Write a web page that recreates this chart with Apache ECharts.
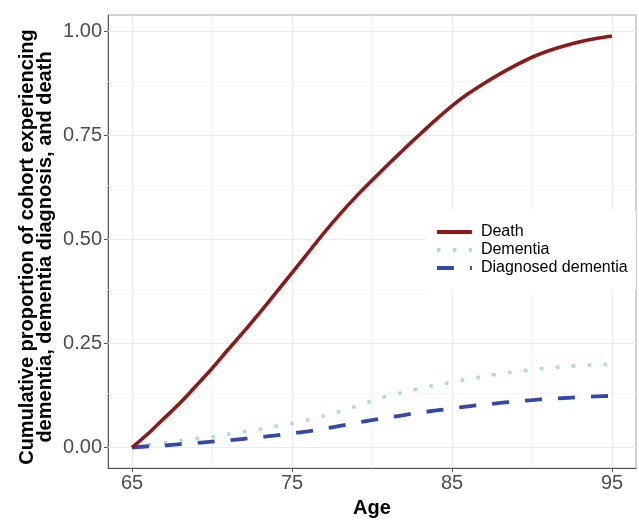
<!DOCTYPE html>
<html>
<head>
<meta charset="utf-8">
<script src="https://cdn.jsdelivr.net/npm/echarts@6/dist/echarts.min.js"></script>
<style>
  html, body { margin: 0; padding: 0; background: #fff; }
  #chart { width: 639px; height: 523px; }
</style>
</head>
<body>
<div id="chart"></div>
<script>
    // values
    const ages = [65, 66, 67, 68, 69, 70, 71, 72, 73, 74, 75, 76, 77, 78, 79, 80,
                  81, 82, 83, 84, 85, 86, 87, 88, 89, 90, 91, 92, 93, 94, 95];
    const death = [0.000, 0.033, 0.070, 0.107, 0.148, 0.190, 0.235, 0.279, 0.325, 0.372, 0.420,
                   0.468, 0.516, 0.561, 0.603, 0.642, 0.680, 0.717, 0.753, 0.788, 0.821,
                   0.850, 0.875, 0.898, 0.919, 0.938, 0.953, 0.965, 0.975, 0.983, 0.989];
    const dementia = [0.000, 0.006, 0.011, 0.016, 0.021, 0.026, 0.032, 0.038, 0.044, 0.051, 0.058,
                      0.066, 0.076, 0.087, 0.099, 0.112, 0.124, 0.133, 0.142, 0.150, 0.157,
                      0.164, 0.171, 0.177, 0.182, 0.187, 0.191, 0.194, 0.197, 0.199, 0.200];
    const diagnosed = [0.000, 0.003, 0.005, 0.008, 0.011, 0.014, 0.017, 0.021, 0.025, 0.029, 0.034,
                       0.039, 0.045, 0.052, 0.059, 0.066, 0.072, 0.078, 0.084, 0.089, 0.094,
                       0.099, 0.103, 0.107, 0.111, 0.114, 0.117, 0.119, 0.121, 0.123, 0.124];

    const xTicks = [65, 75, 85, 95];
    const xMinor = [70, 80, 90];
    const yTicks = [0, 0.25, 0.5, 0.75, 1];
    const yMinor = [0.125, 0.375, 0.625, 0.875];

    const pairs = (ys) => ages.map((a, i) => [a, ys[i]]);

    document.addEventListener('DOMContentLoaded', function () {
        const chart = echarts.init(document.getElementById('chart'));

        // panel grid lines (ggplot-like major + minor)
        const major = { color: '#ebebeb', width: 1.1, type: 'solid' };
        const minor = { color: '#f4f4f4', width: 0.8, type: 'solid' };
        const gridLines = [];
        xTicks.forEach(v => gridLines.push({ xAxis: v, lineStyle: major }));
        xMinor.forEach(v => gridLines.push({ xAxis: v, lineStyle: minor }));
        yTicks.forEach(v => gridLines.push({ yAxis: v, lineStyle: major }));
        yMinor.forEach(v => gridLines.push({ yAxis: v, lineStyle: minor }));

        const option = {
            animation: false,
            textStyle: { fontFamily: 'Liberation Sans, Arial, sans-serif' },
            grid: {
                left: 108, right: 3, top: 15, bottom: 47,
                show: true,
                borderColor: '#a6a6a6',
                borderWidth: 1
            },
            legend: {
                data: ['Death', 'Dementia', 'Diagnosed dementia'],
                orient: 'vertical',
                left: 426,
                top: 210,
                padding: [14, 8, 14, 9],
                backgroundColor: '#fff',
                itemWidth: 35,
                itemHeight: 14,
                itemGap: 2,
                itemStyle: { opacity: 0 },
                lineStyle: { width: 3.8 },
                textStyle: { fontSize: 16, color: '#000', lineHeight: 16, padding: [0, 0, 0, 4] }
            },
            xAxis: {
                type: 'value',
                min: 63.5,
                max: 96.5,
                name: 'Age',
                nameLocation: 'middle',
                nameGap: 26,
                nameTextStyle: { fontSize: 20, fontWeight: 'bold', color: '#000' },
                axisLine: { show: true, onZero: false, lineStyle: { color: '#555', width: 1 } },
                axisTick: { show: true, length: 4, customValues: xTicks, lineStyle: { color: '#555' } },
                axisLabel: { fontSize: 20, color: '#4d4d4d', margin: 5, customValues: xTicks },
                splitLine: { show: false }
            },
            yAxis: {
                type: 'value',
                min: -0.0495,
                max: 1.0395,
                axisLine: { show: true, onZero: false, lineStyle: { color: '#555', width: 1 } },
                axisTick: { show: true, length: 4, customValues: yTicks, lineStyle: { color: '#555' } },
                axisLabel: {
                    fontSize: 20, color: '#4d4d4d', margin: 6, customValues: yTicks,
                    formatter: v => v.toFixed(2)
                },
                splitLine: { show: false }
            },
            graphic: [{
                type: 'text',
                x: 36.5,
                y: 247,
                rotation: Math.PI / 2,
                style: {
                    text: 'Cumulative proportion of cohort experiencing\ndementia, dementia diagnosis, and death',
                    font: 'bold 20px "Liberation Sans", Arial, sans-serif',
                    fill: '#000',
                    align: 'center',
                    verticalAlign: 'middle',
                    lineHeight: 18
                }
            }],
            series: [
                {
                    name: 'grid',
                    type: 'line',
                    z: 1,
                    silent: true,
                    symbol: 'none',
                    data: [],
                    lineStyle: { opacity: 0 },
                    markLine: {
                        z: 1,
                        silent: true,
                        animation: false,
                        symbol: ['none', 'none'],
                        label: { show: false },
                        emphasis: { disabled: true },
                        data: gridLines
                    }
                },
                {
                    name: 'Death',
                    type: 'line',
                    z: 4,
                    symbol: 'none',
                    showSymbol: false,
                    smooth: 0.3,
                    color: '#8b1a1a',
                    lineStyle: { width: 3.6, color: '#8b1a1a' },
                    data: pairs(death)
                },
                {
                    name: 'Dementia',
                    type: 'line',
                    z: 3,
                    symbol: 'none',
                    showSymbol: false,
                    smooth: 0.3,
                    color: '#add8e6',
                    lineStyle: { width: 3.6, color: '#add8e6', type: [3.6, 12.4], cap: 'butt' },
                    data: pairs(dementia)
                },
                {
                    name: 'Diagnosed dementia',
                    type: 'line',
                    z: 3,
                    symbol: 'none',
                    showSymbol: false,
                    smooth: 0.3,
                    color: '#3448a8',
                    lineStyle: { width: 3.8, color: '#3448a8', type: [17, 16], cap: 'butt' },
                    data: pairs(diagnosed)
                }
            ]
        };
        chart.setOption(option);
    });
</script>
</body>
</html>
